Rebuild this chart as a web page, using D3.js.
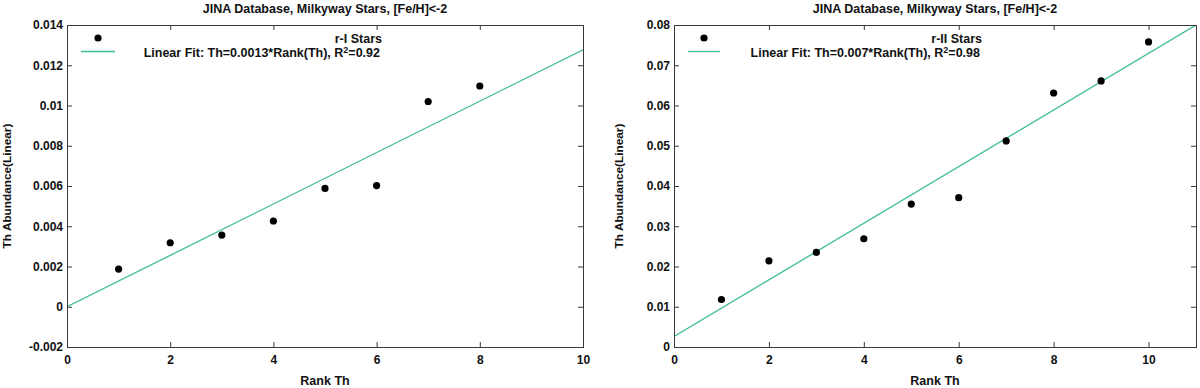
<!DOCTYPE html>
<html>
<head>
<meta charset="utf-8">
<script src="https://cdn.jsdelivr.net/npm/d3@7"></script>
<style>
  html, body { margin: 0; padding: 0; background: #fff; }
  svg { display: block; font-family: "Liberation Sans", Arial, sans-serif; font-weight: bold; }
</style>
</head>
<body>
<svg id="chart" width="1200" height="388"></svg>
<script>
// ---- data ----
const titleText = "JINA Database, Milkyway Stars, [Fe/H]<-2";
const xLabelText = "Rank Th";
const yLabelText = "Th Abundance(Linear)";

// left panel: r-I stars
const rankI = [1, 2, 3, 4, 5, 6, 7, 8];
const thI = [0.00187, 0.00318, 0.00356, 0.00426, 0.00588, 0.00602, 0.0102, 0.01097];
const fitXI = [0, 10];
const fitYI = [0, 0.01277];
const xTicksI = [0, 2, 4, 6, 8, 10];
const yTicksI = [-0.002, 0, 0.002, 0.004, 0.006, 0.008, 0.01, 0.012, 0.014];
const yTickLabelsI = ["-0.002", "0", "0.002", "0.004", "0.006", "0.008", "0.01", "0.012", "0.014"];
const legendPointsI = "r-I Stars";
const legendFitI = ["Linear Fit: Th=0.0013*Rank(Th), R", "2", "=0.92"];

// right panel: r-II stars
const rankII = [1, 2, 3, 4, 5, 6, 7, 8, 9, 10];
const thII = [0.0118, 0.0214, 0.0235, 0.0269, 0.0355, 0.0371, 0.0512, 0.0631, 0.0661, 0.0758];
const fitXII = [0, 11];
const fitYII = [0.0026, 0.0800];
const xTicksII = [0, 2, 4, 6, 8, 10];
const yTicksII = [0, 0.01, 0.02, 0.03, 0.04, 0.05, 0.06, 0.07, 0.08];
const yTickLabelsII = ["0", "0.01", "0.02", "0.03", "0.04", "0.05", "0.06", "0.07", "0.08"];
const legendPointsII = "r-II Stars";
const legendFitII = ["Linear Fit: Th=0.007*Rank(Th), R", "2", "=0.98"];

const svg = d3.select("#chart");
const fitColor = "#3dbd91";
const axisColor = "#3a3a3a";
const textSize = "12.5px";

function panel(cfg) {
  const g = svg.append("g");
  const x = d3.scaleLinear().domain(cfg.xDomain).range([cfg.left, cfg.right]);
  const y = d3.scaleLinear().domain(cfg.yDomain).range([cfg.bottom, cfg.top]);
  const tickLen = 5;

  const axB = d3.axisBottom(x).tickValues(cfg.xTicks).tickSize(-tickLen).tickPadding(8).tickFormat(d3.format("d"));
  const axT = d3.axisTop(x).tickValues(cfg.xTicks).tickSize(-tickLen).tickFormat("");
  const axL = d3.axisLeft(y).tickValues(cfg.yTicks).tickSize(-tickLen).tickPadding(4)
      .tickFormat((d, i) => cfg.yTickLabels[i]);
  const axR = d3.axisRight(y).tickValues(cfg.yTicks).tickSize(-tickLen).tickFormat("");

  const style = sel => {
    sel.select(".domain").remove();
    sel.selectAll(".tick line").attr("stroke", axisColor).attr("stroke-width", 1);
    sel.selectAll(".tick text").attr("fill", "#111").style("font-size", "12px")
      .style("font-weight", "bold").style("font-family", "'Liberation Sans', Arial, sans-serif");
  };
  g.append("g").attr("transform", `translate(0,${cfg.bottom})`).call(axB).call(style);
  g.append("g").attr("transform", `translate(0,${cfg.top})`).call(axT).call(style);
  g.append("g").attr("transform", `translate(${cfg.left},0)`).call(axL).call(style);
  g.append("g").attr("transform", `translate(${cfg.right},0)`).call(axR).call(style);

  const clipId = "clip" + cfg.id;
  svg.append("clipPath").attr("id", clipId).append("rect")
    .attr("x", cfg.left).attr("y", cfg.top).attr("width", cfg.right - cfg.left).attr("height", cfg.bottom - cfg.top);
  const line = d3.line().x(d => x(d[0])).y(d => y(d[1]));
  g.append("path").datum(cfg.fitX.map((v, i) => [v, cfg.fitY[i]]))
    .attr("d", line).attr("fill", "none").attr("stroke", fitColor).attr("stroke-width", 1.3)
    .attr("clip-path", `url(#${clipId})`);

  g.selectAll("circle.pt").data(cfg.xs.map((v, i) => [v, cfg.ys[i]])).enter().append("circle")
    .attr("class", "pt").attr("cx", d => x(d[0])).attr("cy", d => y(d[1])).attr("r", 3.6).attr("fill", "#000");

  g.append("rect").attr("x", cfg.left + 0.5).attr("y", cfg.top + 0.5)
    .attr("width", cfg.right - cfg.left).attr("height", cfg.bottom - cfg.top)
    .attr("fill", "none").attr("stroke", axisColor).attr("stroke-width", 1);

  g.append("text").attr("x", (cfg.left + cfg.right) / 2).attr("y", 12.5).attr("text-anchor", "middle")
    .style("font-size", textSize).attr("fill", "#111").text(titleText);
  g.append("text").attr("x", (cfg.left + cfg.right) / 2).attr("y", 384.5).attr("text-anchor", "middle")
    .style("font-size", textSize).attr("fill", "#111").text(xLabelText);
  g.append("text").attr("transform", `translate(${cfg.yLabelX},${(cfg.top + cfg.bottom) / 2}) rotate(-90)`)
    .attr("text-anchor", "middle").style("font-size", "11.8px").attr("fill", "#111").text(yLabelText);

  g.append("circle").attr("cx", cfg.legDotX).attr("cy", 38).attr("r", 3.6).attr("fill", "#000");
  g.append("text").attr("x", cfg.legTextEnd).attr("y", 43).attr("text-anchor", "end")
    .style("font-size", textSize).attr("fill", "#111").text(cfg.legPoints);
  g.append("line").attr("x1", cfg.legLineX[0]).attr("x2", cfg.legLineX[1]).attr("y1", 51.5).attr("y2", 51.5)
    .attr("stroke", fitColor).attr("stroke-width", 1.3);
  const t = g.append("text").attr("x", cfg.legTextEnd - 2).attr("y", 57).attr("text-anchor", "end")
    .style("font-size", textSize).attr("fill", "#111");
  t.append("tspan").text(cfg.legFit[0]);
  t.append("tspan").attr("dy", -4.5).style("font-size", "9px").text(cfg.legFit[1]);
  t.append("tspan").attr("dy", 4.5).text(cfg.legFit[2]);
}

panel({
  id: "I", left: 67, right: 583, top: 25, bottom: 347,
  xDomain: [0, 10], yDomain: [-0.002, 0.014],
  xTicks: xTicksI, yTicks: yTicksI, yTickLabels: yTickLabelsI,
  xs: rankI, ys: thI, fitX: fitXI, fitY: fitYI,
  yLabelX: 11, legDotX: 98, legLineX: [81, 115], legTextEnd: 382,
  legPoints: legendPointsI, legFit: legendFitI
});
panel({
  id: "II", left: 674, right: 1196, top: 25, bottom: 347,
  xDomain: [0, 11], yDomain: [0, 0.08],
  xTicks: xTicksII, yTicks: yTicksII, yTickLabels: yTickLabelsII,
  xs: rankII, ys: thII, fitX: fitXII, fitY: fitYII,
  yLabelX: 623, legDotX: 704, legLineX: [688, 720], legTextEnd: 982,
  legPoints: legendPointsII, legFit: legendFitII
});
</script>
</body>
</html>
